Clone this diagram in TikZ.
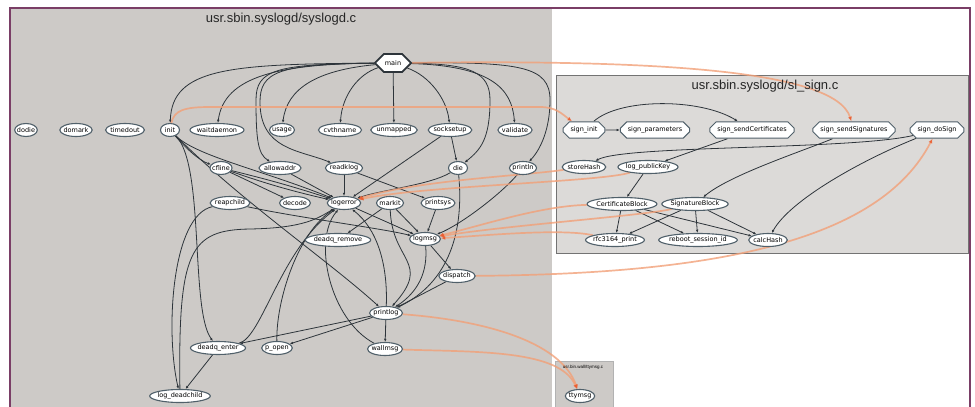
\documentclass[tikz,border=0pt]{standalone}
\usepackage{fontspec}
\setmainfont{Liberation Sans}
\newfontfamily\lblfont{DejaVu Sans}
\usetikzlibrary{shapes.geometric,shapes.misc,arrows.meta}
\pgfdeclarelayer{bglayer}
\pgfdeclarelayer{edgelayer}
\pgfsetlayers{bglayer,edgelayer,main}
\definecolor{clgray}{RGB}{205,202,199}
\definecolor{signgray}{RGB}{220,218,216}
\definecolor{framec}{RGB}{122,62,102}
\definecolor{edgec}{RGB}{45,52,58}
\definecolor{nodeb}{RGB}{80,96,106}
\definecolor{orl}{RGB}{242,160,120}
\definecolor{ora}{RGB}{235,95,50}
\begin{document}
\begin{tikzpicture}[x=1pt,y=-1pt,
  fn/.style={ellipse, draw=nodeb, line width=1.1pt, fill=white, inner xsep=-1pt, inner ysep=0pt,
    minimum height=13pt, minimum width=19pt, font=\lblfont\fontsize{6.5}{6.5}\selectfont},
  sn/.style={chamfered rectangle, chamfered rectangle xsep=3.5pt, chamfered rectangle ysep=3pt,
    draw=nodeb, line width=1pt, fill=white, inner xsep=4pt, inner ysep=2pt,
    minimum height=14pt, font=\lblfont\fontsize{6.5}{6.5}\selectfont},
  ed/.style={draw=edgec, line width=0.8pt, -{Latex[length=3.2pt,width=2.6pt]}},
  oe/.style={draw=orl, line width=1.7pt, draw opacity=0.8, -{Latex[length=4.5pt,width=4pt,color=ora]}},
  ttl/.style={font=\fontsize{13}{13}\selectfont, text=black!85}
]
\useasboundingbox (0,0) rectangle (975,407);
\begin{pgfonlayer}{bglayer}
\fill[white] (0,0) rectangle (975,407);
\fill[clgray] (10,8) rectangle (552,412);
\filldraw[fill=signgray, draw=black!55, line width=0.8pt] (556,75) rectangle (968,253);
\filldraw[fill=clgray, draw=black!30, line width=0.6pt] (555,361) rectangle (613,412);
\draw[framec, line width=2pt] (10,8) rectangle (970,420);
\end{pgfonlayer}

\node[ttl] (t1) at (281,19) {usr.sbin.syslogd/syslogd.c};
\node[ttl] (t2) at (765,86) {usr.sbin.syslogd/sl\_sign.c};
\node[font=\fontsize{4.5}{5}\selectfont] (t3) at (583,367) {usr.bin.wall/ttymsg.c};

% syslogd.c nodes
\node[chamfered rectangle, chamfered rectangle xsep=5pt, chamfered rectangle ysep=4pt, draw=edgec, line width=1.8pt, fill=white,
  inner xsep=5pt, inner ysep=2.5pt, minimum height=16pt, font=\lblfont\fontsize{6.5}{6.5}\selectfont] (main) at (393,63) {main};
\node[fn] (dodie) at (26,130) {dodie};
\node[fn] (domark) at (76,130) {domark};
\node[fn] (timedout) at (125,130) {timedout};
\node[fn] (init) at (170,130) {init};
\node[fn] (waitdaemon) at (217,130) {waitdaemon};
\node[fn] (usage) at (282,130) {usage};
\node[fn] (cvthname) at (340,130) {cvthname};
\node[fn] (unmapped) at (394,130) {unmapped};
\node[fn] (socksetup) at (450,130) {socksetup};
\node[fn] (validate) at (515,130) {validate};
\node[fn] (cfline) at (221,168) {cfline};
\node[fn] (allowaddr) at (280,168) {allowaddr};
\node[fn] (readklog) at (344,168) {readklog};
\node[fn] (die) at (458,168) {die};
\node[fn] (println) at (523,168) {println};
\node[fn] (reapchild) at (230,203) {reapchild};
\node[fn] (decode) at (295,203) {decode};
\node[fn] (logerror) at (344,203) {logerror};
\node[fn] (markit) at (390,203) {markit};
\node[fn] (printsys) at (438,203) {printsys};
\node[fn] (deadqremove) at (338,240) {deadq\_remove};
\node[fn] (logmsg) at (425,239) {logmsg};
\node[fn] (dispatch) at (457,276) {dispatch};
\node[fn] (printlog) at (386,313) {printlog};
\node[fn] (deadqenter) at (218,348) {deadq\_enter};
\node[fn] (popen) at (277,348) {p\_open};
\node[fn] (wallmsg) at (385,349) {wallmsg};
\node[fn] (logdeadchild) at (180,396) {log\_deadchild};
\node[fn] (ttymsg) at (580,396) {ttymsg};

% sl_sign.c nodes
\node[sn] (signinit) at (584,130) {sign\_init};
\node[sn] (signparameters) at (655,130) {sign\_parameters};
\node[sn] (signsendcert) at (752,130) {sign\_sendCertificates};
\node[sn] (signsendsig) at (854,130) {sign\_sendSignatures};
\node[sn] (signdosign) at (937,130) {sign\_doSign};
\node[fn] (storehash) at (584,167) {storeHash};
\node[fn] (logpublickey) at (648,167) {log\_publicKey};
\node[fn] (certblock) at (622,204) {CertificateBlock};
\node[fn] (sigblock) at (695,204) {SignatureBlock};
\node[fn] (rfcprint) at (615,240) {rfc3164\_print};
\node[fn] (rebootid) at (698,240) {reboot\_session\_id};
\node[fn] (calchash) at (768,240) {calcHash};

\begin{pgfonlayer}{edgelayer}
% from main
\draw[ed] (main) .. controls (230,64) and (172,68) .. (init);
\draw[ed] (main) .. controls (280,64) and (224,76) .. (waitdaemon);
\draw[ed] (main) .. controls (318,70) and (287,88) .. (usage);
\draw[ed] (main) .. controls (358,74) and (342,96) .. (cvthname);
\draw[ed] (main) -- (unmapped);
\draw[ed] (main) .. controls (430,76) and (447,100) .. (socksetup);
\draw[ed] (main) .. controls (490,66) and (512,88) .. (validate);
\draw[ed] (main) .. controls (275,64) and (256,70) .. (256,100) .. controls (256,140) and (258,154) .. (allowaddr);
\draw[ed] (main) .. controls (278,64) and (260,72) .. (260,102) .. controls (260,150) and (300,150) .. (readklog);
\draw[ed] (main) .. controls (470,64) and (490,72) .. (490,100) .. controls (490,140) and (480,150) .. (die);
\draw[ed] (main) .. controls (520,62) and (550,66) .. (550,100) .. controls (550,130) and (540,150) .. (println);
% init
\draw[ed] (init) .. controls (184,146) and (198,160) .. (cfline);
\draw[ed] (init) .. controls (196,156) and (262,170) .. (logerror);
\draw[ed] (init) .. controls (205,165) and (190,310) .. (deadqenter);
\draw[ed] (init) .. controls (240,200) and (330,262) .. (printlog);
% middle
\draw[ed] (cfline) -- (decode);
\draw[ed] (cfline) to[bend left=2] (logerror);
\draw[ed] (cfline) to[bend right=3] (logerror);
\draw[ed] (allowaddr) -- (logerror);
\draw[ed] (readklog) -- (logerror);
\draw[ed] (readklog) -- (printsys);
\draw[ed] (socksetup) -- (die);
\draw[ed] (socksetup) -- (logerror);
\draw[ed] (die) .. controls (430,185) and (380,190) .. (logerror);
\draw[ed] (die) .. controls (464,230) and (450,282) .. (printlog);
\draw[ed] (println) .. controls (500,195) and (460,225) .. (logmsg);
\draw[ed] (reapchild) .. controls (300,218) and (380,228) .. (logmsg);
\draw[ed] (reapchild) .. controls (172,215) and (165,330) .. (logdeadchild);
\draw[ed] (logdeadchild) .. controls (178,250) and (190,230) .. (250,229) .. controls (305,228) and (318,218) .. (logerror);
\draw[ed] (markit) -- (deadqremove);
\draw[ed] (markit) -- (logmsg);
\draw[ed] (markit) .. controls (392,262) and (432,262) .. (printlog);
\draw[ed] (printsys) -- (logmsg);
\draw[ed] (logerror) -- (logmsg);
\draw[ed] (logmsg) -- (dispatch);
\draw[ed] (logmsg) .. controls (428,272) and (418,292) .. (printlog);
\draw[ed] (dispatch) -- (printlog);
\draw[ed] (printlog) .. controls (388,262) and (376,228) .. (logerror);
\draw[ed] (printlog) -- (deadqenter);
\draw[ed] (printlog) -- (popen);
\draw[ed] (printlog) -- (wallmsg);
\draw[ed] (wallmsg) .. controls (330,320) and (312,240) .. (logerror);
\draw[ed] (popen) .. controls (276,300) and (298,232) .. (logerror);
\draw[ed] (deadqenter) .. controls (262,338) and (280,250) .. (logerror);
\draw[ed] (deadqenter) -- (logdeadchild);
% sl_sign
\draw[ed] (signinit) -- (signparameters);
\draw[ed] (signinit) .. controls (620,98) and (700,98) .. (signsendcert);
\draw[ed] (signsendcert) -- (logpublickey);
\draw[ed] (signdosign) .. controls (850,150) and (625,145) .. (storehash);
\draw[ed] (signdosign) .. controls (862,160) and (790,200) .. (calchash);
\draw[ed] (signsendsig) .. controls (800,152) and (730,175) .. (sigblock);
\draw[ed] (logpublickey) -- (certblock);
\draw[ed] (certblock) -- (rfcprint);
\draw[ed] (certblock) -- (rebootid);
\draw[ed] (certblock) -- (calchash);
\draw[ed] (sigblock) -- (rfcprint);
\draw[ed] (sigblock) -- (rebootid);
\draw[ed] (sigblock) -- (calchash);
% orange cross-file calls
\draw[oe] (main) .. controls (640,60) and (835,68) .. (signsendsig);
\draw[oe] (init) .. controls (174,110) and (185,107) .. (210,107) -- (540,107) .. controls (556,107) and (562,114) .. (signinit);
\draw[oe] (storehash) .. controls (520,176) and (420,180) .. (logerror);
\draw[oe] (logpublickey) .. controls (600,182) and (420,186) .. (logerror);
\draw[oe] (certblock) .. controls (540,206) and (480,226) .. (logmsg);
\draw[oe] (sigblock) .. controls (640,216) and (500,226) .. (logmsg);
\draw[oe] (rfcprint) .. controls (560,228) and (480,236) .. (logmsg);
\draw[oe] (dispatch) .. controls (720,274) and (880,240) .. (signdosign);
\draw[oe] (printlog) .. controls (480,320) and (560,340) .. (ttymsg);
\draw[oe] (wallmsg) .. controls (480,352) and (560,350) .. (ttymsg);
\end{pgfonlayer}
\end{tikzpicture}
\end{document}
